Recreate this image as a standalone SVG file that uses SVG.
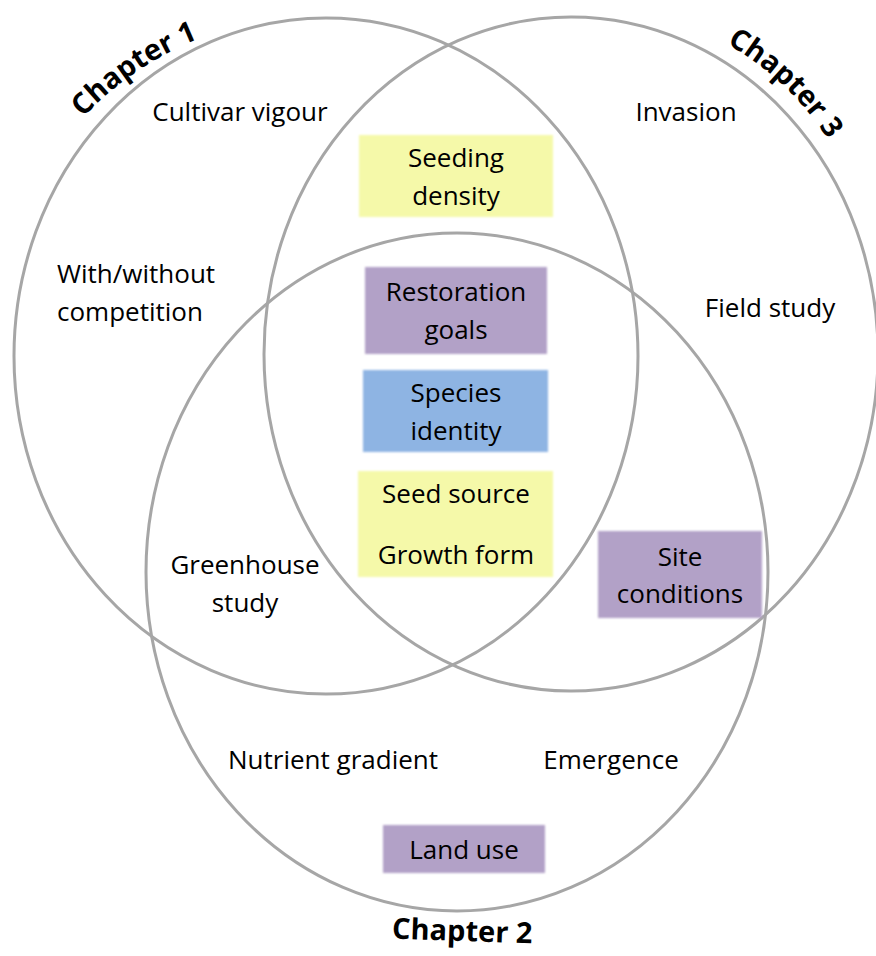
<svg xmlns="http://www.w3.org/2000/svg" width="876" height="956" viewBox="0 0 876 956">
  <style>
    .ring { fill: none; stroke: #a6a6a6; stroke-width: 3; }
    .t { font-family: "Open Sans", "Liberation Sans", sans-serif; font-size: 26px; fill: #000; text-anchor: middle; }
    .tl { text-anchor: start; }
    .ch { font-family: "Open Sans", "Liberation Sans", sans-serif; font-size: 29px; font-weight: bold; fill: #000; }
    .yel { fill: #f5f9a9; }
    .pur { fill: #b2a1c7; }
    .blu { fill: #8eb4e3; }
    .box { filter: url(#soft); }
  </style>
  <defs>
    <filter id="soft" x="-5%" y="-10%" width="110%" height="120%">
      <feGaussianBlur stdDeviation="0.9"/>
    </filter>
    <path id="arc1" d="M71.9,130.3 A320,320 0 0 1 426.4,35.3"/>
    <path id="arc3" d="M683.2,23.8 A290,290 0 0 1 869.6,245.9"/>
  </defs>
  <rect width="876" height="956" fill="#ffffff"/>

  <g id="circles">
    <ellipse id="circle-ch1" class="ring" cx="326" cy="356" rx="312" ry="338"/>
    <ellipse id="circle-ch3" class="ring" cx="571" cy="354" rx="307" ry="337"/>
    <ellipse id="circle-ch2" class="ring" cx="457" cy="572" rx="311" ry="339"/>
  </g>

  <g id="label-ch1">
    <text class="ch"><textPath href="#arc1" startOffset="17">Chapter 1</textPath></text>
  </g>
  <g id="label-ch3">
    <text class="ch"><textPath href="#arc3" startOffset="48">Chapter 3</textPath></text>
  </g>
  <g id="label-ch2">
    <text class="ch" x="462" y="941" text-anchor="middle" font-size="28" transform="rotate(2 462 941)">Chapter 2</text>
  </g>

  <g id="cultivar-vigour"><text class="t" x="240" y="121">Cultivar vigour</text></g>
  <g id="invasion"><text class="t" x="686" y="121">Invasion</text></g>
  <g id="with-without"><text class="t tl" x="57" y="283">With/without</text><text class="t tl" x="57" y="321">competition</text></g>
  <g id="field-study"><text class="t" x="770" y="317">Field study</text></g>
  <g id="greenhouse-study"><text class="t" x="245" y="574">Greenhouse</text><text class="t" x="245" y="612">study</text></g>
  <g id="nutrient-gradient"><text class="t" x="333" y="769">Nutrient gradient</text></g>
  <g id="emergence"><text class="t" x="611" y="769">Emergence</text></g>

  <g id="seeding-density">
    <rect class="yel box" x="359" y="135" width="194" height="82"/>
    <text class="t" x="456" y="167">Seeding</text>
    <text class="t" x="456" y="205">density</text>
  </g>
  <g id="restoration-goals">
    <rect class="pur box" x="365" y="267" width="182" height="87"/>
    <text class="t" x="456" y="301">Restoration</text>
    <text class="t" x="456" y="339">goals</text>
  </g>
  <g id="species-identity">
    <rect class="blu box" x="363" y="370" width="185" height="82"/>
    <text class="t" x="456" y="402">Species</text>
    <text class="t" x="456" y="440">identity</text>
  </g>
  <g id="seed-source-growth-form">
    <rect class="yel box" x="358" y="471" width="195" height="106"/>
    <text class="t" x="456" y="503">Seed source</text>
    <text class="t" x="456" y="564">Growth form</text>
  </g>
  <g id="site-conditions">
    <rect class="pur box" x="598" y="531" width="164" height="87"/>
    <text class="t" x="680" y="566">Site</text>
    <text class="t" x="680" y="603">conditions</text>
  </g>
  <g id="land-use">
    <rect class="pur box" x="383" y="825" width="162" height="48"/>
    <text class="t" x="464" y="859">Land use</text>
  </g>
</svg>
